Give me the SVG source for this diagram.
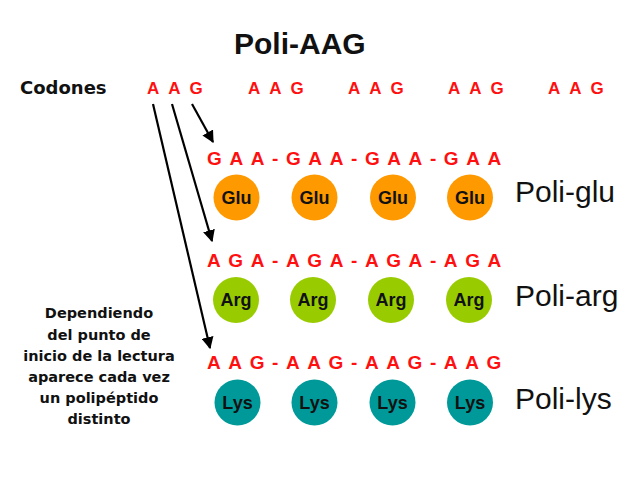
<svg xmlns="http://www.w3.org/2000/svg" width="640" height="479" viewBox="0 0 640 479">
<style>
.title{font-family:"Liberation Sans",Arial,sans-serif;font-weight:bold;font-size:30px;fill:#111}
.lbl{font-family:"DejaVu Sans",Verdana,sans-serif;font-weight:bold;font-size:18px;fill:#111}
.cod{font-family:"Liberation Sans",Arial,sans-serif;font-weight:bold;font-size:17px;fill:#ff1010;letter-spacing:9px}
.seq{font-family:"Liberation Sans",Arial,sans-serif;font-weight:bold;font-size:19px;fill:#ff1010;letter-spacing:7.6px}
.aa{font-family:"Liberation Sans",Arial,sans-serif;font-weight:bold;font-size:18px;fill:#111;text-anchor:middle}
.poli{font-family:"Liberation Sans",Arial,sans-serif;font-size:30px;fill:#111}
.note{font-family:"DejaVu Sans",Verdana,sans-serif;font-weight:bold;font-size:14.5px;fill:#111;text-anchor:middle}
.glu{fill:#ff9900}.arg{fill:#99cc00}.lys{fill:#009999}
.arr{stroke:#000;stroke-width:2.2;fill:none;marker-end:url(#ah)}
</style>
<defs>
<marker id="ah" viewBox="0 0 10 10" refX="9" refY="5" markerWidth="5.5" markerHeight="5.5" orient="auto" markerUnits="strokeWidth">
<path d="M0,0 L10,5 L0,10 z" fill="#000"/>
</marker>
</defs>
<g id="title"><text class="title" x="234" y="54">Poli-AAG</text></g>
<g id="codones">
<text class="lbl" x="20" y="94">Codones</text>
<text class="cod" x="147" y="94">AAG</text>
<text class="cod" x="248" y="94">AAG</text>
<text class="cod" x="348" y="94">AAG</text>
<text class="cod" x="448" y="94">AAG</text>
<text class="cod" x="548" y="94">AAG</text>
</g>
<g id="connectors">
<line class="arr" x1="153" y1="104" x2="210" y2="348"/>
<line class="arr" x1="172" y1="104" x2="212" y2="241"/>
<line class="arr" x1="192" y1="104" x2="213" y2="142"/>
</g>
<g id="row-glu">
<text class="seq" x="207" y="165">GAA-GAA-GAA-GAA</text>
<circle class="glu" cx="236.5" cy="197.5" r="23"/>
<circle class="glu" cx="314.5" cy="197.5" r="23"/>
<circle class="glu" cx="393" cy="197.5" r="23"/>
<circle class="glu" cx="470" cy="197.5" r="23"/>
<text class="aa" x="236.5" y="204">Glu</text>
<text class="aa" x="314.5" y="204">Glu</text>
<text class="aa" x="393" y="204">Glu</text>
<text class="aa" x="470" y="204">Glu</text>
<text class="poli" x="515" y="202">Poli-glu</text>
</g>
<g id="row-arg">
<text class="seq" x="207" y="267">AGA-AGA-AGA-AGA</text>
<circle class="arg" cx="236" cy="300" r="23"/>
<circle class="arg" cx="313" cy="300" r="23"/>
<circle class="arg" cx="391" cy="300" r="23"/>
<circle class="arg" cx="469" cy="300" r="23"/>
<text class="aa" x="236" y="306">Arg</text>
<text class="aa" x="313" y="306">Arg</text>
<text class="aa" x="391" y="306">Arg</text>
<text class="aa" x="469" y="306">Arg</text>
<text class="poli" x="515" y="306">Poli-arg</text>
</g>
<g id="row-lys">
<text class="seq" x="207" y="369">AAG-AAG-AAG-AAG</text>
<circle class="lys" cx="237.5" cy="402.5" r="23"/>
<circle class="lys" cx="314.5" cy="402.5" r="23"/>
<circle class="lys" cx="392.5" cy="402.5" r="23"/>
<circle class="lys" cx="470" cy="402.5" r="23"/>
<text class="aa" x="237.5" y="409">Lys</text>
<text class="aa" x="314.5" y="409">Lys</text>
<text class="aa" x="392.5" y="409">Lys</text>
<text class="aa" x="470" y="409">Lys</text>
<text class="poli" x="515" y="409">Poli-lys</text>
</g>
<g id="note">
<text class="note" x="99" y="318">Dependiendo</text>
<text class="note" x="99" y="340">del punto de</text>
<text class="note" x="99" y="361">inicio de la lectura</text>
<text class="note" x="99" y="382">aparece cada vez</text>
<text class="note" x="99" y="403">un polipéptido</text>
<text class="note" x="99" y="424">distinto</text>
</g>
</svg>
